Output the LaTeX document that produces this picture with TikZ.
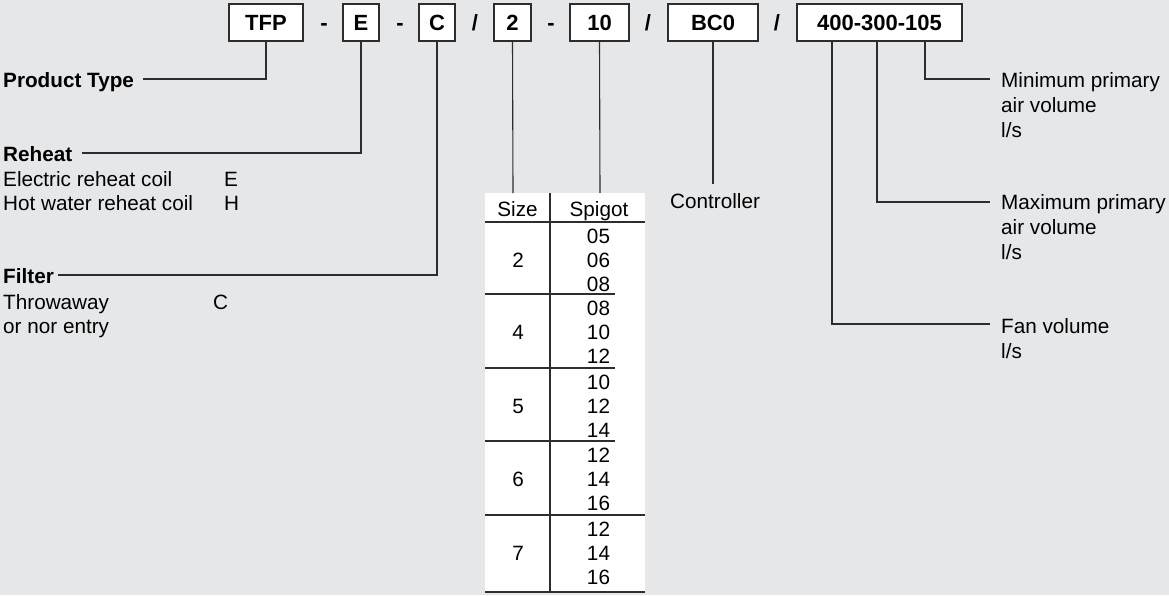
\documentclass[tikz,border=0pt]{standalone}
\usepackage{fontspec}
\setmainfont{Liberation Sans}
\definecolor{bg}{RGB}{230,231,233}
\definecolor{ln}{RGB}{45,45,45}
\tikzset{
  codebox/.style={draw=ln, fill=white, line width=1.1pt, minimum height=37pt, inner sep=0pt,
    font=\fontsize{22}{26}\selectfont\bfseries},
  sepmark/.style={anchor=base, inner sep=0pt, font=\fontsize{22}{26}\selectfont\bfseries},
  conn/.style={draw=ln, line width=1.1pt},
  lbl/.style={anchor=base west, inner sep=0pt},
  blbl/.style={anchor=base west, inner sep=0pt, font=\fontsize{20.7}{24.5}\selectfont\bfseries},
  cell/.style={anchor=base, inner sep=0pt},
  rule/.style={draw=ln, line width=1.1pt},
  thickrule/.style={draw=ln, line width=2.2pt}
}
\begin{document}
\begin{tikzpicture}[x=1pt,y=-1pt,font=\fontsize{20.7}{24.5}\selectfont]
\fill[bg] (0,0) rectangle (1169,595);
\useasboundingbox (0,0) rectangle (1169,595);

% code boxes
\node[codebox, minimum width=74pt]  (tfp)  at (266,22.5) {TFP};
\node[codebox, minimum width=36pt]  (e)    at (361,22.5) {E};
\node[codebox, minimum width=36pt]  (c)    at (437,22.5) {C};
\node[codebox, minimum width=37pt]  (two)  at (512.5,22.5) {2};
\node[codebox, minimum width=59pt]  (ten)  at (599.5,22.5) {10};
\node[codebox, minimum width=90pt]  (bc)   at (713,22.5) {BC0};
\node[codebox, minimum width=165pt] (vol)  at (879.5,22.5) {400-300-105};

\node[sepmark] (s1) at (324,30.5) {-};
\node[sepmark] (s2) at (400,30.5) {-};
\node[sepmark] (s3) at (475,30.5) {/};
\node[sepmark] (s4) at (551,30.5) {-};
\node[sepmark] (s5) at (648,30.5) {/};
\node[sepmark] (s6) at (777,30.5) {/};

% left labels
\node[blbl] (pt) at (3,87) {Product Type};
\node[blbl] (rh) at (3,161) {Reheat};
\node[lbl] (rh1) at (3,186) {Electric reheat coil};
\node[lbl] (rh1c) at (224,186) {E};
\node[lbl] (rh2) at (3,210) {Hot water reheat coil};
\node[lbl] (rh2c) at (224,210) {H};
\node[blbl] (fi) at (3,283) {Filter};
\node[lbl] (fi1) at (3,309) {Throwaway};
\node[lbl] (fi1c) at (213,309) {C};
\node[lbl] (fi2) at (3,333) {or nor entry};

\coordinate (ePT) at (143,79);
\coordinate (eRH) at (82,153);
\coordinate (eFI) at (58,275);
\draw[conn] (tfp.south) |- (ePT);
\draw[conn] (e.south) |- (eRH);
\draw[conn] (c.south) |- (eFI);

% right labels
\node[lbl] (mn1) at (1001,87) {Minimum primary};
\node[lbl] (mn2) at (1001,112) {air volume};
\node[lbl] (mn3) at (1001,137) {l/s};
\node[lbl] (mx1) at (1001,209) {Maximum primary};
\node[lbl] (mx2) at (1001,234) {air volume};
\node[lbl] (mx3) at (1001,259) {l/s};
\node[lbl] (fv1) at (1001,333) {Fan volume};
\node[lbl] (fv2) at (1001,358) {l/s};

\coordinate (xMin) at (925,0);
\coordinate (xMax) at (877,0);
\coordinate (xFan) at (832,0);
\coordinate (eMin) at (990,79);
\coordinate (eMax) at (990,202);
\coordinate (eFan) at (990,324);
\draw[conn] (vol.south -| xMin) |- (eMin);
\draw[conn] (vol.south -| xMax) |- (eMax);
\draw[conn] (vol.south -| xFan) |- (eFan);

% controller
\node[lbl] (ctl) at (670,208) {Controller};
\coordinate (eCtl) at (713,184);
\draw[conn] (bc.south) -- (eCtl);

% table
\fill[white] (485,193) rectangle (645,592);
\coordinate (tSize) at (513,193);
\coordinate (tSpig) at (600,193);
\draw[conn] (two.south) -- (tSize);
\draw[conn] (ten.south) -- (tSpig);
\node[cell] (hsize) at (517.5,216) {Size};
\node[cell] (hspig) at (599,216) {Spigot};
\draw[thickrule] (485,222) -- (645,222);
\draw[thickrule] (550,193) -- (550,592);
\foreach \yy in {294,368,441} \draw[rule] (485,\yy) -- (615,\yy);
\draw[rule] (485,515) -- (645,515);
\draw[rule] (485,592) -- (645,592);

\foreach \top/\sz/\a/\b/\c in {222/2/05/06/08, 294/4/08/10/12, 368/5/10/12/14, 441/6/12/14/16, 515/7/12/14/16}{
  \node[cell] at (518,\top+45) {\sz};
  \node[cell] at (598.5,\top+21) {\a};
  \node[cell] at (598.5,\top+45) {\b};
  \node[cell] at (598.5,\top+69) {\c};
}
\end{tikzpicture}
\end{document}
